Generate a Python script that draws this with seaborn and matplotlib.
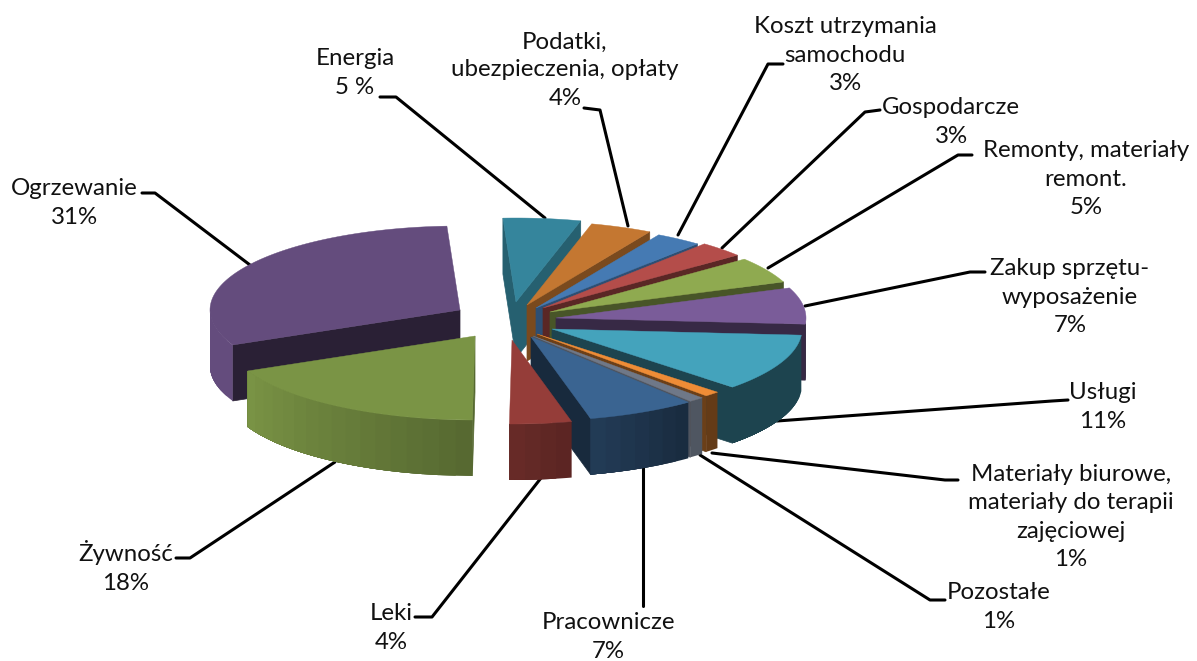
import numpy as np
import seaborn as sns
import matplotlib
matplotlib.use("Agg")
import matplotlib.pyplot as plt

# data
names = ["Energia", "Podatki,\nubezpieczenia, opłaty", "Koszt utrzymania\nsamochodu",
         "Gospodarcze", "Remonty, materiały\nremont.", "Zakup sprzętu-\nwyposażenie",
         "Usługi", "Materiały biurowe,\nmateriały do terapii\nzajęciowej", "Pozostałe",
         "Pracownicze", "Leki", "Żywność", "Ogrzewanie"]
values = [5, 4, 3, 3, 5, 7, 11, 1, 1, 7, 4, 18, 31]
value_suffix = [" %"] + ["%"] * 12

colors = sns.color_palette(["#35859C", "#C47731", "#457AB3", "#B44D4A", "#8FAA50", "#7A5C99",
                            "#44A3BC", "#EE8C36", "#6F7888", "#3A6491", "#953D39", "#7A9445",
                            "#644C7D"])

# look of the 3d pie, pixels
start_angle = -3
rx, ry = 250, 84
depth = 56
tips = [(516, 302), (527, 305), (536, 308), (543, 308), (550, 312), (556, 318), (552, 329),
        (537, 334), (533, 336), (531, 337), (512, 340), (475, 336), (460, 310)]
cut_shade = [0.72, 0.62, 0.65, 0.5, 0.5, 0.45, 0.42, 0.45, 0.7, 0.42, 0.6, 0.7, 0.42]
wall_gain = [1, 1, 1, 1, 1, 1, 1, 1, 1.7, 1, 1, 1, 1]
draw_order = [0, 1, 2, 3, 4, 5, 6, 7, 8, 9, 10, 12, 11]

# label centres and leader lines, pixels
label_pos = [(355, 73), (565, 70), (845, 55), (951, 122), (1086, 179), (1070, 297), (1103, 407),
             (1071, 517), (999, 607), (608, 637), (391, 628), (126, 567), (74, 203)]
leaders = [[(380, 97), (396, 97), (545, 218)],
           [(584, 108), (600, 110), (628, 226)],
           [(783, 64), (768, 64), (678, 235)],
           [(880, 110), (865, 112), (722, 248)],
           [(972, 155), (958, 155), (768, 268)],
           [(985, 272), (970, 272), (805, 306)],
           [(1068, 400), (1052, 401), (777, 421)],
           [(958, 480), (945, 480), (712, 453)],
           [(945, 600), (930, 600), (700, 455)],
           [(643, 458), (643, 606)],
           [(541, 478), (432, 617), (415, 617)],
           [(335, 462), (190, 558), (176, 558)],
           [(250, 265), (155, 193), (142, 193)]]

sns.set_theme(style="white")
plt.rcParams['font.family'] = ['Lato', 'DejaVu Sans']

fig, ax = plt.subplots(figsize=(11.97, 6.61), dpi=100)
fig.subplots_adjust(left=0, right=1, top=1, bottom=0)


def rim(tip, theta):
    t = np.radians(theta)
    return tip[0] + rx * np.sin(t), tip[1] - ry * np.cos(t)


def shade(color, f):
    return tuple(min(c * f, 1) for c in color)


def wall_shade(theta):
    return np.interp(theta, [90, 140, 166, 180, 245, 270], [0.42, 0.42, 0.6, 0.7, 1.0, 1.0])


for line in leaders:
    pts = np.array(line)
    sns.lineplot(x=pts[:, 0], y=pts[:, 1], sort=False, estimator=None, color="black",
                 linewidth=2.2, ax=ax, zorder=1)

edges = start_angle + np.concatenate([[0], np.cumsum(values)]) * 3.6

for i in draw_order:
    a1, a2 = edges[i], edges[i + 1]
    tip = tips[i]
    col = colors[i]
    z = 2 + draw_order.index(i)

    # cut sides, only the ones turned to the viewer
    for theta, normal in [(a1, a1 - 90), (a2, a2 + 90)]:
        if np.cos(np.radians(normal)) < 0:
            x, y = rim(tip, theta)
            ax.fill([tip[0], x, x, tip[0]], [tip[1], y, y + depth, tip[1] + depth],
                    color=shade(col, cut_shade[i]), lw=0.5, zorder=z)

    # outer wall in thin strips for the gradient, each runs on under the next
    lo, hi = max(a1, 90), min(a2, 270)
    if hi > lo:
        steps = np.linspace(lo, hi, int((hi - lo) / 4) + 2)
        for t0, t1 in zip(steps[:-1], steps[1:]):
            arc = np.linspace(t0, hi, 40)
            xs, ys = rim(tip, arc)
            ax.fill(np.r_[xs, xs[::-1]], np.r_[ys, ys[::-1] + depth],
                    color=shade(col, wall_gain[i] * wall_shade((t0 + t1) / 2)), lw=0, zorder=z)

    # top face
    arc = np.linspace(a1, a2, 80)
    xs, ys = rim(tip, arc)
    ax.fill(np.r_[tip[0], xs], np.r_[tip[1], ys], color=col, lw=0.3, zorder=z)

for name, val, suffix, pos in zip(names, values, value_suffix, label_pos):
    ax.text(pos[0], pos[1], f"{name}\n{val}{suffix}", ha="center", va="center",
            fontsize=17.3, linespacing=1.42, color="#111111", zorder=30)

ax.set_xlim(0, 1197)
ax.set_ylim(661, 0)
ax.set_axis_off()
fig.savefig("out.png", dpi=100)
